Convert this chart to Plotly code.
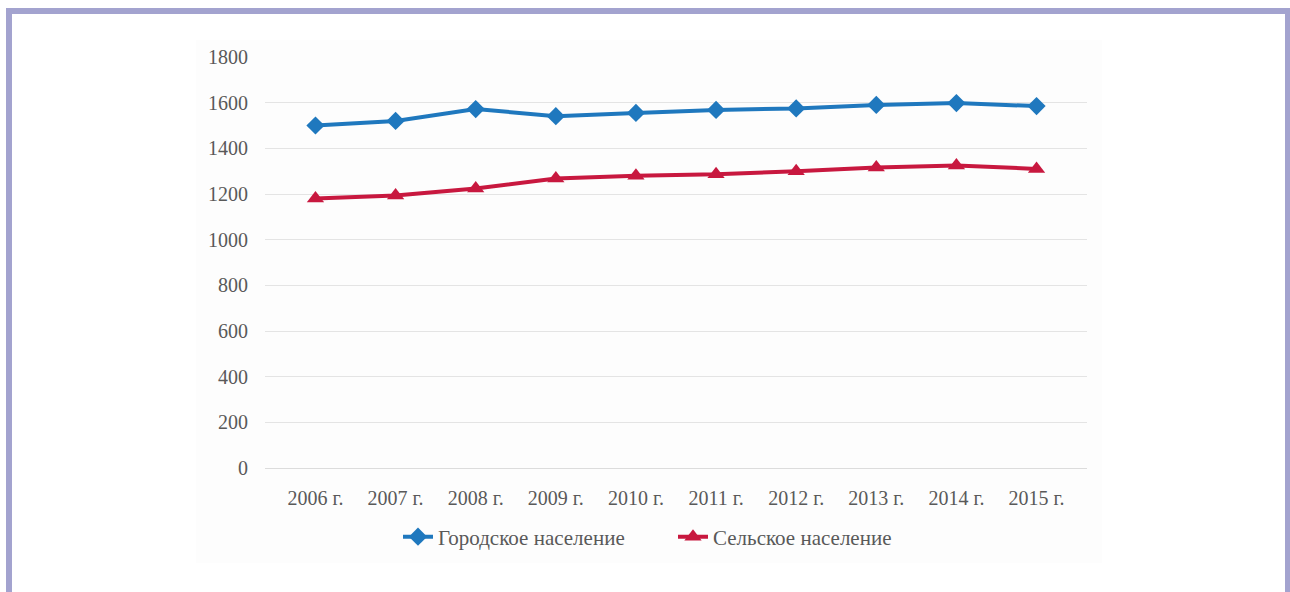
import plotly.graph_objects as go

# Population by year, thousand people
years = ["2006 г.", "2007 г.", "2008 г.", "2009 г.", "2010 г.",
         "2011 г.", "2012 г.", "2013 г.", "2014 г.", "2015 г."]
urban = [1500, 1520, 1572, 1541, 1555, 1568, 1575, 1590, 1598, 1585]
rural = [1180, 1193, 1224, 1268, 1280, 1286, 1300, 1316, 1325, 1310]
y_ticks = [0, 200, 400, 600, 800, 1000, 1200, 1400, 1600, 1800]

W, H = 1290, 592
ML, MR, MT, MB = 265, 203, 57, 124
PW, PH = W - ML - MR, H - MT - MB

def px_x(v):
    return (v - ML) / PW

def px_y(v):
    return (H - MB - v) / PH

TEXT = "#595959"
FONT = "Liberation Serif, Times New Roman, serif"

fig = go.Figure()
fig.add_trace(go.Scatter(
    x=years, y=urban, name="Городское население", mode="lines+markers",
    line=dict(color="#1f78be", width=4),
    marker=dict(symbol="diamond", size=14, color="#1f78be"),
))
fig.add_trace(go.Scatter(
    x=years, y=rural, name="Сельское население", mode="lines+markers",
    line=dict(color="#c8183f", width=4),
    marker=dict(symbol="triangle-up", size=15, color="#c8183f"),
))

frame = "#a3a3cf"
shapes = [
    # faint chart area
    dict(type="rect", xref="paper", yref="paper", layer="below",
         x0=px_x(196), x1=px_x(1102), y0=px_y(563), y1=px_y(40),
         fillcolor="#fdfdfd", line=dict(width=0)),
    # outer frame
    dict(type="rect", xref="paper", yref="paper",
         x0=px_x(6), x1=px_x(12), y0=px_y(600), y1=px_y(8),
         fillcolor=frame, line=dict(width=0)),
    dict(type="rect", xref="paper", yref="paper",
         x0=px_x(6), x1=px_x(1290), y0=px_y(14), y1=px_y(8),
         fillcolor=frame, line=dict(width=0)),
    dict(type="rect", xref="paper", yref="paper",
         x0=px_x(1285), x1=px_x(1291), y0=px_y(600), y1=px_y(8),
         fillcolor=frame, line=dict(width=0)),
]

fig.update_layout(
    width=W, height=H,
    margin=dict(l=ML, r=MR, t=MT, b=MB),
    paper_bgcolor="white", plot_bgcolor="rgba(0,0,0,0)",
    font=dict(family=FONT, size=20, color=TEXT),
    showlegend=True,
    legend=dict(orientation="h", x=px_x(398), xanchor="left",
                y=px_y(537), yanchor="middle",
                font=dict(family=FONT, size=21, color=TEXT),
                itemwidth=30, traceorder="normal", entrywidth=230,
                bgcolor="rgba(0,0,0,0)"),
    shapes=shapes,
)
fig.update_xaxes(showgrid=False, showline=False, zeroline=False,
                 ticks="", ticklabelstandoff=16,
                 tickfont=dict(family=FONT, size=20, color=TEXT))
fig.update_yaxes(range=[0, 1800], tickvals=y_ticks,
                 showgrid=True, gridcolor="#e4e4e4", gridwidth=1,
                 zeroline=True, zerolinecolor="#dcdcdc", zerolinewidth=1,
                 showline=False, ticks="", ticklabelstandoff=16,
                 tickfont=dict(family=FONT, size=20, color=TEXT))

fig.write_html("out.html")
